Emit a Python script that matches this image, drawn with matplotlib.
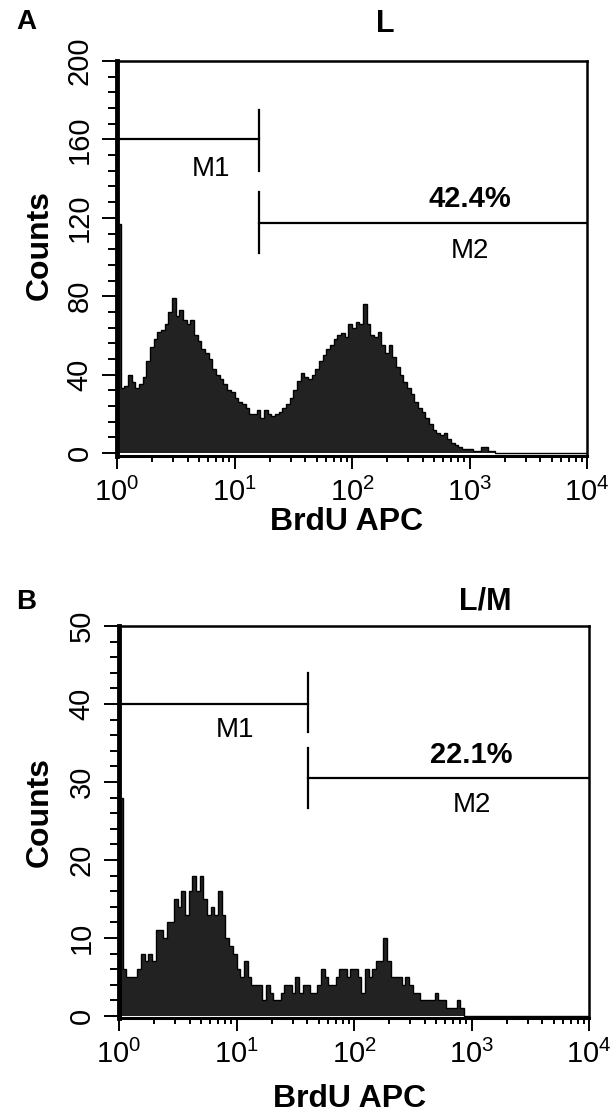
import numpy as np
import matplotlib
matplotlib.use('Agg')
import matplotlib.pyplot as plt
from matplotlib.ticker import FixedLocator, LogLocator, NullFormatter

plt.rcParams['font.family'] = ['Liberation Sans', 'DejaVu Sans']
plt.rcParams['mathtext.fontset'] = 'custom'
plt.rcParams['mathtext.rm'] = 'Liberation Sans'
plt.rcParams['mathtext.it'] = 'Liberation Sans:italic'
plt.rcParams['mathtext.bf'] = 'Liberation Sans:bold'

# channel counts, 32 channels per decade starting at 10^0
counts_l = [117, 33, 34, 40, 36, 33, 35, 39, 47, 54,
            58, 62, 63, 66, 72, 79, 70, 73, 68, 66,
            68, 60, 57, 53, 51, 48, 43, 40, 38, 35,
            32, 31, 28, 26, 25, 23, 20, 20, 22, 18,
            22, 20, 19, 20, 21, 23, 25, 28, 32, 37,
            41, 39, 38, 40, 43, 47, 50, 53, 55, 58,
            60, 61, 59, 66, 64, 67, 66, 76, 66, 60,
            59, 62, 55, 51, 55, 49, 44, 40, 36, 33,
            30, 26, 23, 21, 18, 15, 12, 10, 9, 10,
            7, 5, 4, 3, 2, 2, 2, 1, 1, 3,
            3, 1, 1] + [0] * 25
counts_lm = [28, 6, 5, 5, 5, 6, 8, 7, 8, 7,
             11, 11, 10, 12, 12, 15, 14, 16, 13, 16,
             18, 16, 18, 15, 13, 14, 13, 16, 13, 10,
             9, 8, 6, 5, 7, 5, 4, 4, 4, 2,
             4, 3, 2, 2, 3, 4, 4, 3, 5, 3,
             4, 4, 3, 3, 4, 6, 5, 4, 4, 5,
             6, 6, 5, 6, 6, 5, 3, 6, 5, 6,
             7, 7, 10, 7, 5, 5, 5, 4, 5, 4,
             3, 3, 2, 2, 2, 2, 3, 2, 2, 1,
             1, 1, 2, 1] + [0] * 34
edges = 10 ** (np.arange(129) / 32)

panels = [
    dict(letter='A', title='L', counts=counts_l, ymax=200, ystep=40, yminor=8,
         m1_y=160, m1_end=16.3, m1_bar=(144, 175), m1_lbl=(6.3, 145),
         m2_y=117.5, m2_bar=(102, 133), pct='42.4%', pct_y=129.5, m2_lbl_y=103,
         rect=[117, 61, 470, 395], ybot=-1.5, letter_xy=(26, 22), title_xy=(385, 24),
         xlab=(0.489, -0.168), ylab=(-0.164, 0.534)),
    dict(letter='B', title='L/M', counts=counts_lm, ymax=50, ystep=10, yminor=2,
         m1_y=40, m1_end=40.8, m1_bar=(36.4, 44), m1_lbl=(9.7, 36.7),
         m2_y=30.5, m2_bar=(26.7, 34.4), pct='22.1%', pct_y=33.5, m2_lbl_y=27,
         rect=[119, 626, 470, 392], ybot=-0.25, letter_xy=(26, 602), title_xy=(485, 601),
         xlab=(0.491, -0.206), ylab=(-0.168, 0.526)),
]

W, H = 614, 1117
fig = plt.figure(figsize=(W / 100, H / 100), dpi=100)

for p in panels:
    x0, y0, w, h = p['rect']
    ax = fig.add_axes([x0 / W, 1 - (y0 + h) / H, w / W, h / H])
    ax.set_xscale('log')
    ax.set_xlim(1, 1e4)
    ax.set_ylim(p['ybot'], p['ymax'])

    ax.stairs(p['counts'], edges, fill=True, color='#222222', zorder=2)
    ax.stairs(p['counts'], edges, color='black', lw=1.0, zorder=3)

    # gate markers
    lw = 1.6
    ax.plot([1, p['m1_end']], [p['m1_y'], p['m1_y']], color='black', lw=lw)
    ax.plot([p['m1_end'], p['m1_end']], p['m1_bar'], color='black', lw=lw)
    ax.plot([p['m1_end'], 1e4], [p['m2_y'], p['m2_y']], color='black', lw=lw)
    ax.plot([p['m1_end'], p['m1_end']], p['m2_bar'], color='black', lw=lw)
    ax.text(p['m1_lbl'][0], p['m1_lbl'][1], 'M1', fontsize=20, ha='center', va='center')
    ax.text(1e3, p['m2_lbl_y'], 'M2', fontsize=20, ha='center', va='center')
    ax.text(1e3, p['pct_y'], p['pct'], fontsize=21, fontweight='bold', ha='center', va='center')

    # axes styling
    ax.spines['left'].set_linewidth(3.5)
    ax.spines['bottom'].set_linewidth(2.2)
    ax.spines['top'].set_linewidth(1.8)
    ax.spines['right'].set_linewidth(1.8)

    ax.xaxis.set_major_locator(FixedLocator([1, 10, 100, 1000, 10000]))
    ax.set_xticklabels(['$10^{0}$', '$10^{1}$', '$10^{2}$', '$10^{3}$', '$10^{4}$'])
    ax.xaxis.set_minor_locator(LogLocator(base=10, subs=np.arange(2, 10), numticks=20))
    ax.xaxis.set_minor_formatter(NullFormatter())
    ax.set_yticks(np.arange(0, p['ymax'] + 1, p['ystep']))
    ax.set_yticks(np.arange(0, p['ymax'] + 1, p['yminor']), minor=True)

    ax.tick_params(axis='x', which='major', length=9, width=1.4, labelsize=21, pad=7)
    ax.tick_params(axis='x', which='minor', length=4.5, width=1.4)
    ax.tick_params(axis='y', which='major', length=11, width=1.4, labelsize=21, pad=6)
    ax.tick_params(axis='y', which='minor', length=6.5, width=1.4)
    for lbl in ax.get_yticklabels():
        lbl.set_rotation(90)
        lbl.set_va('center')

    ax.set_xlabel('BrdU APC', fontsize=23, fontweight='bold')
    ax.set_ylabel('Counts', fontsize=23, fontweight='bold')
    ax.xaxis.label.set_va('center')
    ax.yaxis.label.set_va('center')
    ax.xaxis.set_label_coords(*p['xlab'])
    ax.yaxis.set_label_coords(*p['ylab'])

    fig.text(p['letter_xy'][0] / W, 1 - p['letter_xy'][1] / H, p['letter'],
             fontsize=20, fontweight='bold', ha='center', va='center')
    fig.text(p['title_xy'][0] / W, 1 - p['title_xy'][1] / H, p['title'],
             fontsize=22, fontweight='bold', ha='center', va='center')

fig.savefig('out.png', dpi=100)
